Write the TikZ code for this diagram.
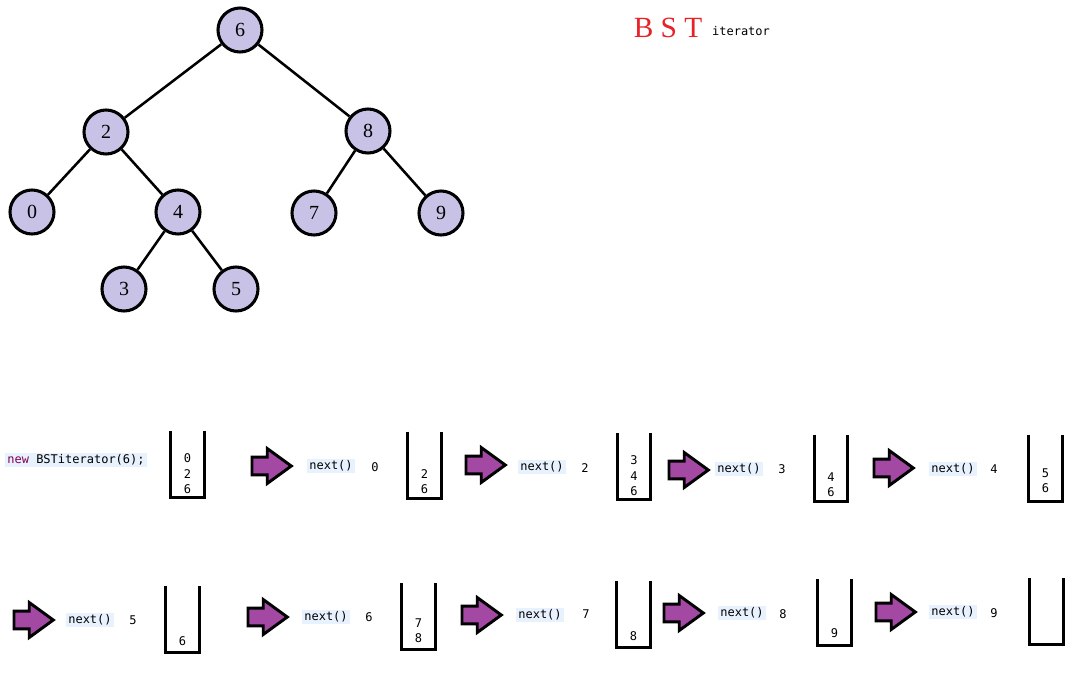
\documentclass[tikz,border=0pt]{standalone}
\usepackage{fontspec}
\setmainfont{Liberation Serif}
\setmonofont{DejaVu Sans Mono}
\usetikzlibrary{shapes.arrows,positioning}
\definecolor{nodefill}{RGB}{200,195,230}
\definecolor{arrowfill}{RGB}{163,73,164}
\definecolor{codebg}{RGB}{232,242,254}
\definecolor{keyword}{RGB}{127,0,85}
\definecolor{titlered}{RGB}{232,32,40}

\begin{document}
\begin{tikzpicture}[x=0.75pt,y=-0.75pt,
	treenode/.style={circle,draw,line width=2.3pt,fill=nodefill,minimum size=33pt,inner sep=0pt,font=\fontsize{15}{18}\selectfont},
	edge/.style={line width=1.9pt},
	bigarrow/.style={single arrow,draw,line width=2.2pt,fill=arrowfill,inner sep=5.5pt,single arrow head extend=6.5pt,single arrow tip angle=72,minimum height=29.5pt,anchor=tail},
	stackbox/.style={minimum width=24.75pt,minimum height=49.5pt,inner sep=0pt},
	stackwall/.style={line width=2.25pt,line join=miter},
	items/.style={font=\ttfamily\fontsize{9}{11.5}\selectfont,align=center,anchor=south,inner sep=0pt},
	code/.style={font=\ttfamily\fontsize{9}{10}\selectfont,fill=codebg,inner sep=1.5pt},
	val/.style={font=\ttfamily\fontsize{9}{10}\selectfont,inner sep=0pt}]
	\useasboundingbox (0,0) rectangle (1074,672);
	
	% Draw the tree
	\node[treenode] (n6) at (240,30) {6};
	\node[treenode] (n2) at (106,132) {2};
	\node[treenode] (n8) at (368,131) {8};
	\node[treenode] (n0) at (32,212) {0};
	\node[treenode] (n4) at (178,212) {4};
	\node[treenode] (n7) at (314,213) {7};
	\node[treenode] (n9) at (441,213) {9};
	\node[treenode] (n3) at (124,289) {3};
	\node[treenode] (n5) at (236,289) {5};
	\draw[edge] (n6) -- (n2);
	\draw[edge] (n6) -- (n8);
	\draw[edge] (n2) -- (n0);
	\draw[edge] (n2) -- (n4);
	\draw[edge] (n4) -- (n3);
	\draw[edge] (n4) -- (n5);
	\draw[edge] (n8) -- (n7);
	\draw[edge] (n8) -- (n9);
	
	% Title
	\node[text=titlered,font=\fontsize{22}{26}\selectfont] (title) at (668,28) {B S T};
	\node[val] (sub) at (741,31) {iterator};
	
	% First row
	\node[code] (init) at (76,460) {\textcolor{keyword}{new} BSTiterator(6);};
	\node[stackbox] (s1) at (187.5,464.5) {};
	\node[items,above=3pt of s1.south] (i1) {0\\2\\6};
	\node[bigarrow] (a1) at (250.5,466) {};
	\node[code] (c1) at (331,466) {next()};
	\node[val] (v1) at (375,467) {0};
	\node[stackbox] (s2) at (424.5,465) {};
	\node[items,above=3pt of s2.south] (i2) {2\\6};
	\node[bigarrow] (a2) at (464.5,465) {};
	\node[code] (c2) at (542,467) {next()};
	\node[val] (v2) at (585,468) {2};
	\node[stackbox] (s3) at (634,466.5) {};
	\node[items,above=3pt of s3.south] (i3) {3\\4\\6};
	\node[bigarrow] (a3) at (667.5,470) {};
	\node[code] (c3) at (739,469) {next()};
	\node[val] (v3) at (782,469) {3};
	\node[stackbox] (s4) at (831,468) {};
	\node[items,above=3pt of s4.south] (i4) {4\\6};
	\node[bigarrow] (a4) at (872.5,468) {};
	\node[code] (c4) at (953,469) {next()};
	\node[val] (v4) at (994,469) {4};
	\node[stackbox] (s5) at (1045.5,468) {};
	\node[items,above=6pt of s5.south] (i5) {5\\6};
	
	% Second row
	\node[bigarrow] (a5) at (12.5,620) {};
	\node[code] (c5) at (90,620) {next()};
	\node[val] (v5) at (133,620) {5};
	\node[stackbox] (s6) at (182.5,619) {};
	\node[items,above=4.5pt of s6.south] (i6) {6};
	\node[bigarrow] (a6) at (246.5,617) {};
	\node[code] (c6) at (326,617) {next()};
	\node[val] (v6) at (369,617) {6};
	\node[stackbox] (s7) at (418.5,616.5) {};
	\node[items,above=5pt of s7.south] (i7) {7\\8};
	\node[bigarrow] (a7) at (460.5,615) {};
	\node[code] (c7) at (540,615) {next()};
	\node[val] (v7) at (586,614) {7};
	\node[stackbox] (s8) at (633.5,614.5) {};
	\node[items,above=5.5pt of s8.south] (i8) {8};
	\node[bigarrow] (a8) at (662.5,613) {};
	\node[code] (c8) at (742,613) {next()};
	\node[val] (v8) at (783,614) {8};
	\node[stackbox] (s9) at (834.5,612.5) {};
	\node[items,above=6pt of s9.south] (i9) {9};
	\node[bigarrow] (a9) at (874.5,612) {};
	\node[code] (c9) at (953,612) {next()};
	\node[val] (v9) at (994,613) {9};
	\node[stackbox] (s10) at (1046.5,611.5) {};
	
	% Stack walls
	\foreach \s in {s1,s2,s3,s4,s5,s6,s7,s8,s9,s10}
		\draw[stackwall] (\s.north west) -- (\s.south west) -- (\s.south east) -- (\s.north east);
\end{tikzpicture}
\end{document}
